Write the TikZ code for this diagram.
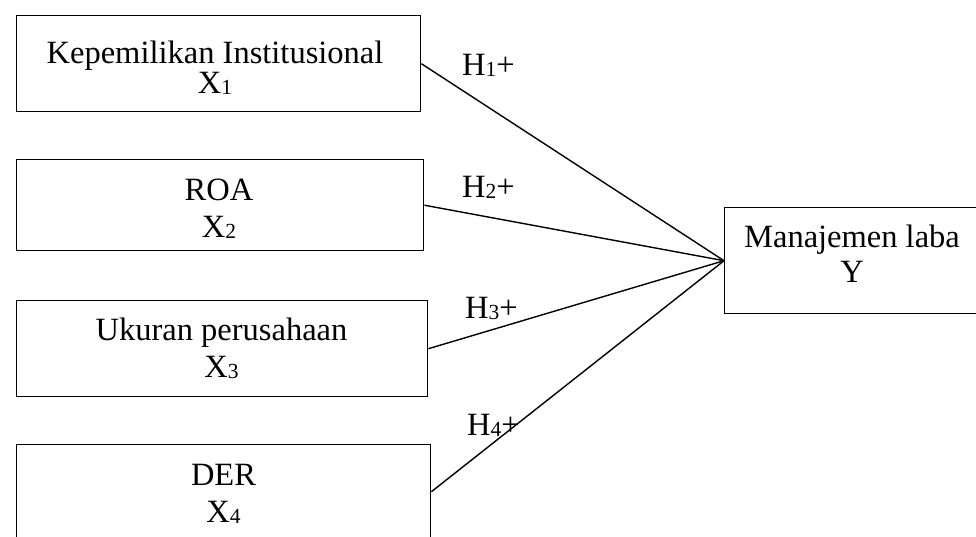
\documentclass[tikz,border=0pt]{standalone}
\usepackage{fontspec}
\setmainfont{Liberation Serif}
\newcommand\sbsc[1]{\raisebox{-1.5pt}{\fontsize{21.5}{21.5}\selectfont #1}}
\begin{document}
\begin{tikzpicture}[x=1pt,y=-1pt,
  box/.style={draw, line width=1.4pt, inner sep=0pt, anchor=north west},
  txt/.style={font=\fontsize{32.5}{32.5}\selectfont, inner sep=0pt, anchor=base},
  hyp/.style={font=\fontsize{32.5}{32.5}\selectfont, inner sep=0pt, anchor=base west},
  conn/.style={line width=1.4pt}]
\useasboundingbox (0,0) rectangle (976,536);
% boxes
\node[box, minimum width=404.5pt, minimum height=96pt] (b1) at (15.5,15) {};
\node[box, minimum width=407pt, minimum height=91pt] (b2) at (16,159) {};
\node[box, minimum width=411pt, minimum height=96pt] (b3) at (16,300) {};
\node[box, minimum width=414pt, minimum height=94pt] (b4) at (16,444) {};
\node[box, minimum width=270pt, minimum height=106pt] (by) at (724,207) {};
% texts
\node[txt] (t1a) at (215,63) {Kepemilikan Institusional};
\node[txt] (t1b) at (215,93) {X\sbsc{1}};
\node[txt] (t2a) at (219,200) {ROA};
\node[txt] (t2b) at (219,237) {X\sbsc{2}};
\node[txt] (t3a) at (221.5,340) {Ukuran perusahaan};
\node[txt] (t3b) at (221.5,377) {X\sbsc{3}};
\node[txt] (t4a) at (223.5,485) {DER};
\node[txt] (t4b) at (223.5,522) {X\sbsc{4}};
\node[txt] (tya) at (852,247) {Manajemen laba};
\node[txt] (tyb) at (852,282) {Y};
% connectors
\draw[conn] (b1.east) -- (by.west);
\draw[conn] (b2.east) -- (by.west);
\draw[conn] (b3.east) -- (by.west);
\draw[conn] (b4.east) -- (by.west);
% hypothesis labels
\node[hyp] (h1) at (462,75) {H\sbsc{1}+};
\node[hyp] (h2) at (462,197) {H\sbsc{2}+};
\node[hyp] (h3) at (465,318) {H\sbsc{3}+};
\node[hyp] (h4) at (467,435) {H\sbsc{4}+};
\end{tikzpicture}
\end{document}
